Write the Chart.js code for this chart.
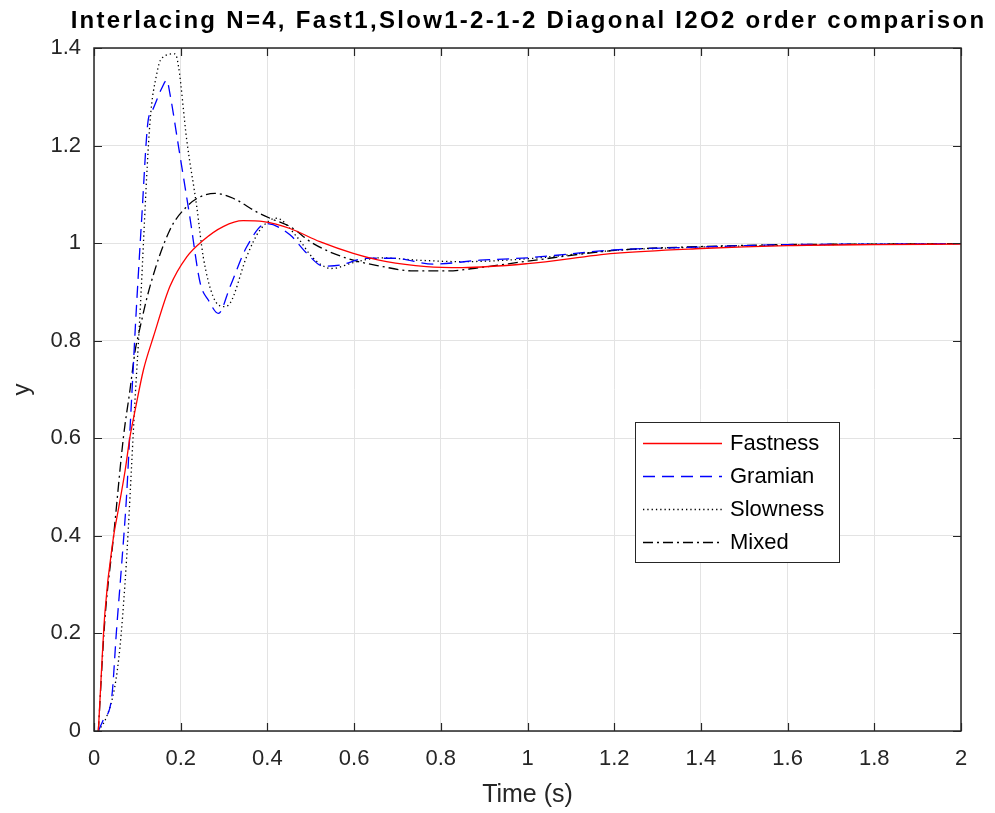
<!DOCTYPE html>
<html>
<head>
<meta charset="utf-8">
<script src="https://cdn.jsdelivr.net/npm/chart.js@4.4.1/dist/chart.umd.min.js"></script>
<style>
  html, body { margin: 0; padding: 0; background: #fff; }
  canvas { display: block; }
</style>
</head>
<body>
<canvas id="chartStep" width="995" height="813"></canvas>
<script>
// Judul dan label
const chartTitle = 'Interlacing N=4, Fast1,Slow1-2-1-2 Diagonal I2O2 order comparison';
const seriesNames = ['Fastness', 'Gramian', 'Slowness', 'Mixed'];
const xTicks = [0, 0.2, 0.4, 0.6, 0.8, 1, 1.2, 1.4, 1.6, 1.8, 2];
const yTicks = [0, 0.2, 0.4, 0.6, 0.8, 1, 1.2, 1.4];

// Data respon step
const fastT = [0.01, 0.025, 0.045, 0.056, 0.072, 0.083, 0.095, 0.114, 0.137, 0.175, 0.214, 0.252, 0.298, 0.344, 0.391, 0.452, 0.521, 0.598, 0.675, 0.767, 0.85, 1.0, 1.2, 1.4, 1.6, 1.8, 2.0];
const fastY = [0, 0.241, 0.398, 0.453, 0.535, 0.603, 0.658, 0.740, 0.808, 0.911, 0.972, 1.006, 1.034, 1.046, 1.044, 1.030, 1.003, 0.979, 0.962, 0.952, 0.950, 0.958, 0.979, 0.989, 0.995, 0.997, 0.998];

const gramT = [0.01, 0.021, 0.041, 0.052, 0.064, 0.075, 0.083, 0.091, 0.095, 0.11, 0.125, 0.133, 0.156, 0.168, 0.175, 0.195, 0.221, 0.245, 0.264, 0.287, 0.314, 0.352, 0.398, 0.452, 0.491, 0.529, 0.567, 0.629, 0.690, 0.783, 0.890, 1.0, 1.2, 1.4, 1.6, 1.8, 2.0];
const gramY = [0, 0.022, 0.070, 0.207, 0.344, 0.480, 0.617, 0.753, 0.822, 1.05, 1.252, 1.269, 1.317, 1.334, 1.307, 1.198, 1.054, 0.918, 0.883, 0.856, 0.911, 0.992, 1.040, 1.017, 0.979, 0.953, 0.955, 0.969, 0.969, 0.957, 0.965, 0.970, 0.986, 0.992, 0.997, 0.998, 0.999];

const slowT = [0.01, 0.029, 0.048, 0.060, 0.072, 0.079, 0.087, 0.095, 0.104, 0.129, 0.145, 0.156, 0.187, 0.195, 0.214, 0.237, 0.252, 0.275, 0.298, 0.314, 0.352, 0.383, 0.421, 0.468, 0.506, 0.548, 0.598, 0.660, 0.75, 0.85, 1.0, 1.2, 1.4, 1.6, 1.8, 2.0];
const slowY = [0, 0.029, 0.091, 0.173, 0.309, 0.412, 0.549, 0.685, 0.820, 1.246, 1.348, 1.379, 1.388, 1.362, 1.211, 1.075, 0.972, 0.890, 0.870, 0.877, 0.972, 1.027, 1.051, 1.013, 0.969, 0.948, 0.960, 0.970, 0.965, 0.962, 0.968, 0.985, 0.992, 0.996, 0.998, 0.999];

const mixT = [0.01, 0.025, 0.045, 0.068, 0.083, 0.095, 0.102, 0.129, 0.175, 0.214, 0.245, 0.279, 0.321, 0.375, 0.406, 0.452, 0.506, 0.583, 0.660, 0.737, 0.813, 0.890, 1.0, 1.2, 1.4, 1.6, 1.8, 2.0];
const mixY = [0, 0.227, 0.398, 0.603, 0.699, 0.780, 0.810, 0.911, 1.027, 1.075, 1.095, 1.102, 1.092, 1.064, 1.051, 1.034, 0.999, 0.969, 0.953, 0.943, 0.943, 0.950, 0.963, 0.985, 0.993, 0.997, 0.998, 0.999];

const FONT = '"Liberation Sans", Arial, Helvetica, sans-serif';
const AXIS_COLOR = '#262626';

function toPoints(t, y) {
  return t.map((v, i) => ({ x: v, y: y[i] }));
}

// Plugin: bingkai, tick ke dalam, judul dan legenda ala MATLAB
const matlabLook = {
  id: 'matlabLook',
  afterDatasetsDraw(chart) {
    const ctx = chart.ctx;
    const ca = chart.chartArea;
    const xs = chart.scales.x;
    const ys = chart.scales.y;
    ctx.save();
    ctx.strokeStyle = AXIS_COLOR;
    ctx.lineWidth = 1.5;
    ctx.setLineDash([]);
    ctx.strokeRect(ca.left, ca.top, ca.right - ca.left, ca.bottom - ca.top);
    const tl = 8;
    ctx.lineWidth = 1.2;
    ctx.beginPath();
    xTicks.forEach(v => {
      const px = Math.round(xs.getPixelForValue(v)) + 0.5;
      ctx.moveTo(px, ca.bottom); ctx.lineTo(px, ca.bottom - tl);
      ctx.moveTo(px, ca.top); ctx.lineTo(px, ca.top + tl);
    });
    yTicks.forEach(v => {
      const py = Math.round(ys.getPixelForValue(v)) + 0.5;
      ctx.moveTo(ca.left, py); ctx.lineTo(ca.left + tl, py);
      ctx.moveTo(ca.right, py); ctx.lineTo(ca.right - tl, py);
    });
    ctx.stroke();

    // legenda
    const lx = 635, ly = 422, lw = 204, lh = 140;
    ctx.fillStyle = '#ffffff';
    ctx.fillRect(lx, ly, lw, lh);
    ctx.strokeStyle = AXIS_COLOR;
    ctx.lineWidth = 1;
    ctx.strokeRect(lx + 0.5, ly + 0.5, lw, lh);
    ctx.font = '22px ' + FONT;
    ctx.textBaseline = 'middle';
    ctx.textAlign = 'left';
    chart.data.datasets.forEach((ds, i) => {
      const ry = 443 + i * 33;
      ctx.strokeStyle = ds.borderColor;
      ctx.lineWidth = ds.borderWidth;
      ctx.setLineDash(ds.borderDash || []);
      ctx.beginPath();
      ctx.moveTo(643, ry + 0.5); ctx.lineTo(722, ry + 0.5);
      ctx.stroke();
      ctx.setLineDash([]);
      ctx.fillStyle = '#000';
      ctx.fillText(ds.label, 730, ry + 1);
    });
    ctx.restore();
  },
  afterDraw(chart) {
    const ctx = chart.ctx;
    const ca = chart.chartArea;
    ctx.save();
    ctx.font = 'bold 24px ' + FONT;
    if ('letterSpacing' in ctx) ctx.letterSpacing = '2.3px';
    ctx.fillStyle = '#000';
    ctx.textAlign = 'center';
    ctx.textBaseline = 'middle';
    ctx.fillText(chartTitle, (ca.left + ca.right) / 2 + 1, 21);
    ctx.restore();
  }
};

const ctxStep = document.getElementById('chartStep').getContext('2d');
const stepChart = new Chart(ctxStep, {
  type: 'line',
  data: {
    datasets: [
      { label: seriesNames[0], data: toPoints(fastT, fastY), borderColor: '#ff0000', borderWidth: 1.3 },
      { label: seriesNames[1], data: toPoints(gramT, gramY), borderColor: '#0000ff', borderWidth: 1.3, borderDash: [12, 7] },
      { label: seriesNames[2], data: toPoints(slowT, slowY), borderColor: '#000000', borderWidth: 1.3, borderDash: [1.3, 3] },
      { label: seriesNames[3], data: toPoints(mixT, mixY), borderColor: '#000000', borderWidth: 1.3, borderDash: [10, 4, 2, 4] }
    ]
  },
  options: {
    responsive: false,
    animation: false,
    devicePixelRatio: 1,
    layout: { padding: { top: 48, right: 34, left: 0, bottom: 0 } },
    elements: {
      point: { radius: 0 },
      line: { cubicInterpolationMode: 'monotone', fill: false }
    },
    plugins: {
      legend: { display: false },
      tooltip: { enabled: false },
      title: { display: false }
    },
    scales: {
      x: {
        type: 'linear',
        min: 0,
        max: 2,
        afterBuildTicks: s => { s.ticks = xTicks.map(v => ({ value: v })); },
        afterFit: s => { s.height = 82; },
        grid: { color: '#e3e3e3', lineWidth: 1, drawTicks: false },
        border: { display: false },
        ticks: {
          padding: 15,
          color: AXIS_COLOR,
          font: { family: FONT, size: 22 },
          maxRotation: 0,
          callback: v => String(Number(v.toFixed(1)))
        },
        title: {
          display: true,
          text: 'Time (s)',
          color: AXIS_COLOR,
          font: { family: FONT, size: 25 },
          padding: { top: 0, bottom: 3 }
        }
      },
      y: {
        type: 'linear',
        min: 0,
        max: 1.4,
        afterBuildTicks: s => { s.ticks = yTicks.map(v => ({ value: v })); },
        afterFit: s => { s.width = 94; },
        grid: { color: '#e3e3e3', lineWidth: 1, drawTicks: false },
        border: { display: false },
        ticks: {
          padding: 13,
          color: AXIS_COLOR,
          font: { family: FONT, size: 22 },
          callback: v => String(Number(v.toFixed(1)))
        },
        title: {
          display: true,
          text: 'y',
          color: AXIS_COLOR,
          font: { family: FONT, size: 24 },
          padding: { top: 8, bottom: 0 }
        }
      }
    }
  },
  plugins: [matlabLook]
});
</script>
</body>
</html>
